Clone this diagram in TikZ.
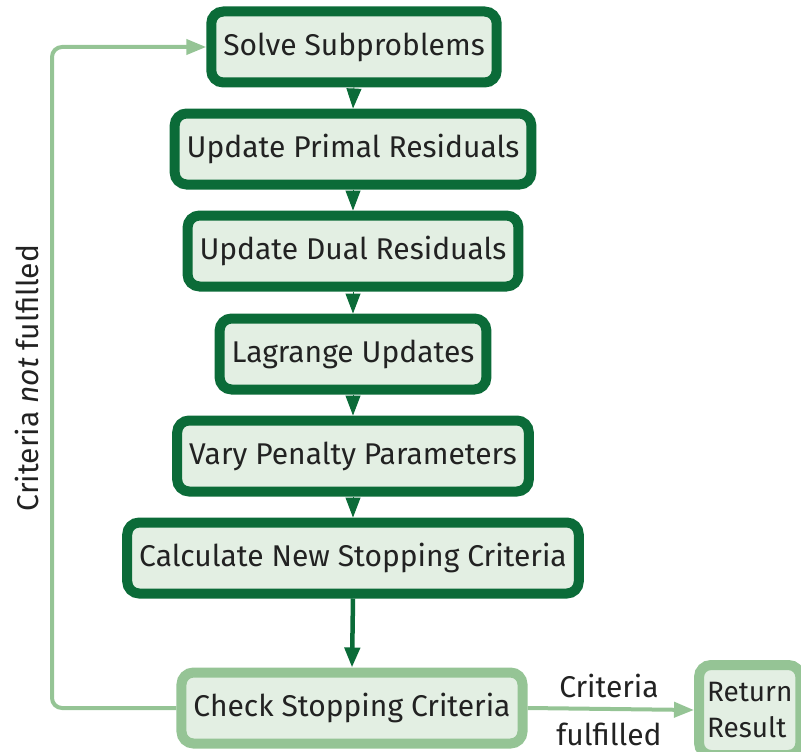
\documentclass[tikz,border=0pt]{standalone}
\usepackage{fontspec}
\setmainfont{Fira Sans}
\usetikzlibrary{arrows.meta,positioning}
\definecolor{dgreen}{HTML}{0B6B38}
\definecolor{lgreen}{HTML}{95C495}
\definecolor{boxfill}{HTML}{E3EFE3}
\definecolor{txt}{HTML}{222222}
\tikzset{
  dbox/.style={draw=dgreen, line width=10pt, fill=boxfill, rounded corners=12pt,
    minimum height=71pt, inner xsep=12pt, font=\fontsize{30}{36}\selectfont, text=txt},
  lbox/.style={dbox, draw=lgreen},
  darr/.style={dgreen, line width=4.5pt, -{Triangle[width=15pt,length=20pt]}},
  tiparr/.style={dgreen, line width=1pt, -{Triangle[width=15pt,length=20pt]}},
  larr/.style={lgreen, line width=4pt, -{Triangle[width=15pt,length=20pt]}, rounded corners=10pt},
  lbl/.style={font=\fontsize{30}{36}\selectfont, text=txt}
}
\begin{document}
\begin{tikzpicture}[x=1pt,y=1pt]
\useasboundingbox (0,0) rectangle (801,-752);
\node[dbox] (s1) at (354,-47) {Solve Subproblems};
\node[dbox] (s2) at (353,-149) {Update Primal Residuals};
\node[dbox] (s3) at (353,-251) {Update Dual Residuals};
\node[dbox] (s4) at (353,-354) {Lagrange Updates};
\node[dbox] (s5) at (353,-456) {Vary Penalty Parameters};
\node[dbox] (s6) at (353,-558) {Calculate New Stopping Criteria};
\node[lbox] (c) at (352,-708) {Check Stopping Criteria};
\node[lbox, align=left, minimum height=90pt, inner xsep=8pt, inner ysep=6pt, anchor=west,
  font=\fontsize{28}{36}\selectfont] (r) at (694,-710) {Return\\Result};
\draw[tiparr] (s1.south) -- (s2.north);
\draw[tiparr] (s2.south) -- (s3.north);
\draw[tiparr] (s3.south) -- (s4.north);
\draw[tiparr] (s4.south) -- (s5.north);
\draw[tiparr] (s5.south) -- (s6.north);
\draw[darr] (s6.south) -- (c.north);
\coordinate (lb) at (52,-708);
\coordinate (lt) at (52,-47);
\draw[larr] (c.west) -- (lb) -- (lt) -- (s1.west);
\draw[larr] (c.east) -- (r.west);
\node[lbl] (cr1) at (609,-686) {Criteria};
\node[lbl] (cr2) at (609,-734) {fulfilled};
\node[lbl, rotate=90] (cnf) at (27,-378) {Criteria \textit{not} fulfilled};
\end{tikzpicture}
\end{document}
